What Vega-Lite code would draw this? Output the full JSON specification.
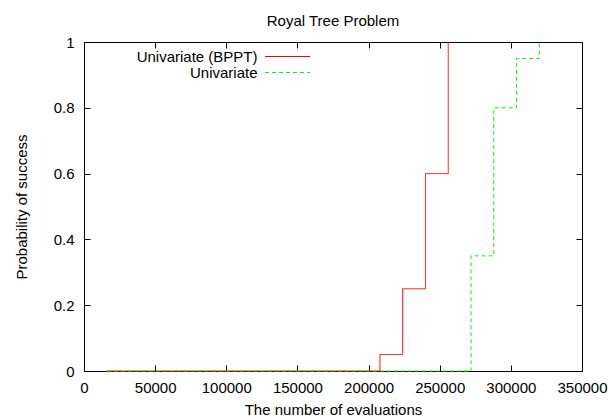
{
  "$schema": "https://vega.github.io/schema/vega-lite/v6.json",
  "width": 498,
  "height": 329,
  "autosize": {"type": "none"},
  "padding": {"left": 84, "top": 42, "right": 31, "bottom": 46},
  "background": "white",
  "title": {"text": "Royal Tree Problem", "font": "Liberation Sans", "fontSize": 15, "fontWeight": "normal", "color": "black", "anchor": "middle", "frame": "group", "offset": 12, "baseline": "alphabetic", "dy": 18},
  "data": {
    "values": [
      {"series": "Univariate (BPPT)", "evals": 16000, "prob": 0},
      {"series": "Univariate (BPPT)", "evals": 208000, "prob": 0.05},
      {"series": "Univariate (BPPT)", "evals": 224000, "prob": 0.25},
      {"series": "Univariate (BPPT)", "evals": 240000, "prob": 0.6},
      {"series": "Univariate (BPPT)", "evals": 256000, "prob": 1},
      {"series": "Univariate", "evals": 16000, "prob": 0},
      {"series": "Univariate", "evals": 272000, "prob": 0.35},
      {"series": "Univariate", "evals": 288000, "prob": 0.8},
      {"series": "Univariate", "evals": 304000, "prob": 0.95},
      {"series": "Univariate", "evals": 320000, "prob": 1}
    ]
  },
  "config": {
    "view": {"stroke": "black", "strokeWidth": 1},
    "axis": {"grid": false, "domain": false, "tickColor": "black", "tickSize": -6, "tickWidth": 1, "labelOverlap": false, "labelFlush": false, "labelFont": "Liberation Sans", "labelFontSize": 15, "labelColor": "black", "titleFont": "Liberation Sans", "titleFontSize": 15, "titleFontWeight": "normal", "titleColor": "black"},
    "legend": {"orient": "none", "legendX": 196, "legendY": 7, "title": null, "padding": 0, "rowPadding": 0, "symbolType": "M-5,0H5", "symbolSize": 81, "symbolStrokeWidth": 1, "labelAlign": "right", "labelOffset": -37.5, "labelFont": "Liberation Sans", "labelFontSize": 15, "labelColor": "black", "labelLimit": 300}
  },
  "layer": [
    {
      "transform": [{"filter": "datum.series === 'Univariate (BPPT)'"}],
      "mark": {"type": "line", "interpolate": "step-after", "strokeWidth": 1},
      "encoding": {
        "x": {"field": "evals", "type": "quantitative", "scale": {"domain": [0, 350000], "nice": false},
          "axis": {"orient": "bottom", "values": [0, 50000, 100000, 150000, 200000, 250000, 300000, 350000], "format": "d", "labelPadding": 15, "title": "The number of evaluations", "titleY": 38, "titleBaseline": "middle"}},
        "y": {"field": "prob", "type": "quantitative", "scale": {"domain": [0, 1], "nice": false},
          "axis": {"orient": "left", "values": [0, 0.2, 0.4, 0.6, 0.8, 1], "format": "~g", "labelPadding": 16, "title": "Probability of success", "titleX": -63, "titleBaseline": "middle"}},
        "color": {"field": "series", "type": "nominal", "scale": {"domain": ["Univariate (BPPT)", "Univariate"], "range": ["#ff0000", "#00ff00"]}, "legend": {"title": null}},
        "strokeDash": {"field": "series", "type": "nominal", "scale": {"domain": ["Univariate (BPPT)", "Univariate"], "range": [[1, 0], [4, 3]]}, "legend": {"title": null}}
      }
    },
    {
      "transform": [{"filter": "datum.series === 'Univariate'"}],
      "mark": {"type": "line", "interpolate": "step-after", "strokeWidth": 1},
      "encoding": {
        "x": {"field": "evals", "type": "quantitative", "scale": {"domain": [0, 350000], "nice": false},
          "axis": {"orient": "top", "values": [0, 50000, 100000, 150000, 200000, 250000, 300000, 350000], "labels": false, "title": null}},
        "y": {"field": "prob", "type": "quantitative", "scale": {"domain": [0, 1], "nice": false},
          "axis": {"orient": "right", "values": [0, 0.2, 0.4, 0.6, 0.8, 1], "labels": false, "title": null}},
        "color": {"field": "series", "type": "nominal", "scale": {"domain": ["Univariate (BPPT)", "Univariate"], "range": ["#ff0000", "#00ff00"]}, "legend": {"title": null}},
        "strokeDash": {"field": "series", "type": "nominal", "scale": {"domain": ["Univariate (BPPT)", "Univariate"], "range": [[1, 0], [4, 3]]}, "legend": {"title": null}}
      }
    }
  ],
  "resolve": {"axis": {"x": "independent", "y": "independent"}}
}
